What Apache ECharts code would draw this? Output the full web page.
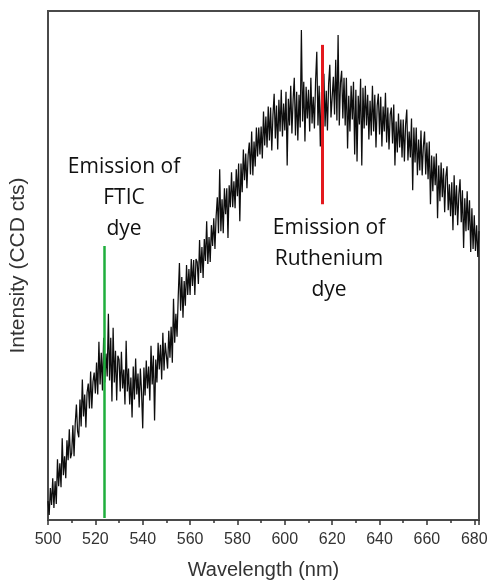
<!DOCTYPE html>
<html>
<head>
<meta charset="utf-8">
<script src="https://cdn.jsdelivr.net/npm/echarts@6/dist/echarts.min.js"></script>
<style>
html,body{margin:0;padding:0;background:#fff;}
#chart{width:491px;height:585px;}
</style>
</head>
<body>
<div id="chart"></div>
<script>
// Spectrum sampled every 0.5 nm starting at 500 nm (intensity in arbitrary CCD counts)
const wavelengthStart = 500;
const wavelengthStep = 0.5;
const intensity = [
  19,5,32,15,42,12,39,16,61,34,57,33,82,45,64,42,80,60,91,62,
  67,95,64,97,116,89,83,121,94,141,104,126,93,128,137,112,149,112,139,148,
  127,158,126,179,136,168,130,183,138,167,144,207,140,183,119,193,138,170,120,165,
  161,129,169,132,151,116,180,129,152,116,143,103,154,121,162,126,147,113,152,129,
  92,153,125,160,132,154,120,175,136,165,100,161,138,178,151,176,141,188,150,178,
  177,152,190,163,194,158,222,178,207,184,225,258,210,244,203,240,215,256,226,252,
  226,262,235,261,226,262,259,237,281,248,274,243,282,260,300,257,284,259,296,275,
  303,272,305,324,288,352,290,322,288,333,307,333,283,336,314,349,314,340,313,352,
  325,358,300,358,329,372,341,368,333,366,379,347,390,346,380,355,394,365,394,367,
  395,363,410,376,405,374,415,381,414,371,407,428,383,416,372,422,390,432,385,418,
  391,430,356,423,396,436,388,422,444,386,430,381,427,394,492,400,440,380,435,403,
  432,390,444,398,425,393,441,470,396,436,375,430,404,448,395,431,391,438,457,404,
  403,445,407,462,401,487,396,439,451,403,444,396,444,373,426,390,436,402,440,367,
  432,360,426,397,443,356,434,393,436,396,427,382,421,386,436,390,427,374,416,428,
  387,425,375,415,390,429,379,414,372,407,414,378,417,356,400,369,408,374,402,364,
  402,360,397,412,361,390,364,403,331,394,359,394,346,382,351,391,346,375,390,347,
  379,342,380,317,366,330,365,336,368,303,356,320,359,324,353,309,345,355,311,337,
  305,339,291,346,306,336,296,327,342,299,331,273,323,290,330,291,321,269,313,272,
  306,270,296,264,290
];
const xTickLabels = [500,520,540,560,580,600,620,640,660,680];
// Emission markers: wavelength, and intensity span of the drawn bar
const ftcMarker = [523.8, 2, 275];
const rutheniumMarker = [616, 317, 477];
const ftcLabel = ['Emission of', 'FTIC', 'dye'];
const rutheniumLabel = ['Emission of', 'Ruthenium', 'dye'];

const seriesData = intensity.map((v, i) => [wavelengthStart + wavelengthStep * i, v]);

const chart = echarts.init(document.getElementById('chart'), null, {renderer: 'canvas'});
chart.setOption({
  animation: false,
  backgroundColor: '#fff',
  grid: {left: 48, right: 12, top: 11, bottom: 63, show: true, borderColor: '#4a4a4a', borderWidth: 2, backgroundColor: 'transparent'},
  xAxis: {
    type: 'value', min: 500, max: 682, interval: 20,
    name: 'Wavelength (nm)', nameLocation: 'middle', nameGap: 40,
    nameTextStyle: {fontFamily: 'Liberation Sans', fontSize: 20, color: '#333'},
    axisLine: {show: true, lineStyle: {color: '#4a4a4a', width: 2}},
    axisTick: {show: true, length: 5, lineStyle: {color: '#333', width: 1.5}},
    minorTick: {show: true, splitNumber: 2, length: 3, lineStyle: {color: '#333', width: 1.5}},
    axisLabel: {
      fontFamily: 'Liberation Sans', fontSize: 16, color: '#333', margin: 12,
      showMaxLabel: false,
      formatter: v => xTickLabels.indexOf(v) >= 0 ? String(v) : ''
    },
    splitLine: {show: false}
  },
  yAxis: {
    type: 'value', min: 0, max: 511,
    name: 'Intensity (CCD cts)', nameLocation: 'middle', nameGap: 19,
    nameTextStyle: {fontFamily: 'Liberation Sans', fontSize: 21, color: '#333'},
    axisLine: {show: false}, axisTick: {show: false}, axisLabel: {show: false}, splitLine: {show: false}
  },
  series: [{
    type: 'line', data: seriesData, showSymbol: false, silent: true,
    lineStyle: {color: '#0d0d0d', width: 1.25},
    markLine: {
      silent: true, symbol: ['none', 'none'], label: {show: false},
      data: [
        [{coord: [ftcMarker[0], ftcMarker[1]], lineStyle: {color: '#1fae3c', width: 2.5, type: 'solid'}},
         {coord: [ftcMarker[0], ftcMarker[2]]}],
        [{coord: [rutheniumMarker[0], rutheniumMarker[1]], lineStyle: {color: '#e3191e', width: 3, type: 'solid'}},
         {coord: [rutheniumMarker[0], rutheniumMarker[2]]}]
      ]
    }
  }],
  graphic: [
    {type: 'text', x: 124, y: 152, style: {text: ftcLabel.join('\n'), align: 'center', verticalAlign: 'top', fontFamily: 'Open Sans', fontSize: 21, lineHeight: 31, fill: '#111'}},
    {type: 'text', x: 329, y: 213, style: {text: rutheniumLabel.join('\n'), align: 'center', verticalAlign: 'top', fontFamily: 'Open Sans', fontSize: 21, lineHeight: 31, fill: '#111'}}
  ]
});
</script>
</body>
</html>
